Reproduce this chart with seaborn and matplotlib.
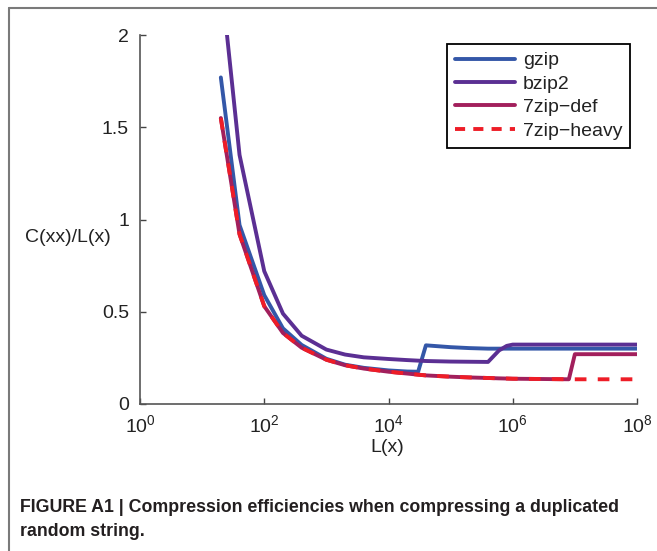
import numpy as np
import pandas as pd
import matplotlib
matplotlib.use("Agg")
import matplotlib.pyplot as plt
import seaborn as sns
from matplotlib.lines import Line2D
from matplotlib.ticker import FuncFormatter, FixedLocator

# ---- data ----
x_len = [20, 40, 100, 200, 400, 1e3, 2e3, 4e3, 1e4, 2e4, 3e4, 4e4, 1e5, 2e5,
         4e5, 6e5, 8e5, 1e6, 2e6, 4e6, 8e6, 1e7, 2e7, 4e7, 1e8]
gzip = [1.77, 0.97, 0.59, 0.41, 0.32, 0.245, 0.213, 0.196, 0.182, 0.176, 0.175,
        0.318, 0.308, 0.303, 0.300, 0.300, 0.300, 0.300, 0.300, 0.300, 0.300,
        0.300, 0.300, 0.300, 0.300]
bzip2 = [2.32, 1.35, 0.72, 0.49, 0.37, 0.295, 0.268, 0.253, 0.244, 0.238, 0.235,
         0.233, 0.230, 0.229, 0.228, 0.290, 0.315, 0.322, 0.322, 0.322, 0.322,
         0.322, 0.322, 0.322, 0.322]
zip7_def = [1.55, 0.92, 0.53, 0.385, 0.305, 0.240, 0.210, 0.192, 0.175, 0.165,
            0.159, 0.155, 0.148, 0.144, 0.141, 0.139, 0.138, 0.137, 0.136, 0.135,
            0.134, 0.270, 0.270, 0.270, 0.270]
zip7_heavy = [1.55, 0.92, 0.53, 0.385, 0.305, 0.240, 0.210, 0.192, 0.175, 0.165,
              0.159, 0.155, 0.148, 0.144, 0.141, 0.139, 0.138, 0.137, 0.136, 0.135,
              0.134, 0.134, 0.134, 0.134, 0.134]
series_names = ["gzip", "bzip2", "7zip\u2212def", "7zip\u2212heavy"]
x_ticks = [1, 1e2, 1e4, 1e6, 1e8]
y_ticks = [0, 0.5, 1, 1.5, 2]
caption_lines = ["FIGURE A1 | Compression efficiencies when compressing a duplicated",
                 "random string."]

# ---- style ----
sns.set_style("ticks")
plt.rcParams["font.family"] = ["Liberation Sans", "DejaVu Sans"]
plt.rcParams["mathtext.fontset"] = "custom"
plt.rcParams["mathtext.rm"] = "Liberation Sans"
plt.rcParams["mathtext.it"] = "Liberation Sans:italic"

colors = ["#3457A8", "#5B2F93", "#A21F5C", "#EE1D27"]

df = pd.DataFrame({"L": x_len, "gzip": gzip, "bzip2": bzip2,
                   "def": zip7_def, "heavy": zip7_heavy})

W, H = 657, 551
fig = plt.figure(figsize=(W / 100, H / 100), dpi=100)
fig.patch.set_facecolor("white")
ax = fig.add_axes([140 / W, 1 - 404 / H, (637 - 140) / W, (404 - 35) / H])

lw = 2.8
cols = ["gzip", "bzip2", "def", "heavy"]
for col, name, c in zip(cols, series_names, colors):
    sns.lineplot(data=df, x="L", y=col, ax=ax, color=c, linewidth=lw,
                 label=name, estimator=None, sort=False)
ax.lines[-1].set_dashes((3.0, 2.9))
ax.lines[-1].set_dash_capstyle("butt")

ax.set_xscale("log")
ax.set_xlim(1, 1e8)
ax.set_ylim(0, 2)
ax.xaxis.set_major_locator(FixedLocator(x_ticks))
ax.xaxis.set_minor_locator(FixedLocator([]))
ax.yaxis.set_major_locator(FixedLocator(y_ticks))
ax.yaxis.set_major_formatter(FuncFormatter(lambda v, p: f"{v:g}"))
ax.tick_params(direction="in", length=4, width=1, colors="#444444",
               labelcolor="#222222", labelsize=14)
ax.tick_params(axis="x", pad=7)
ax.tick_params(axis="y", pad=8)
for s in ["top", "right"]:
    ax.spines[s].set_visible(False)
for s in ["left", "bottom"]:
    ax.spines[s].set_color("#555555")
    ax.spines[s].set_linewidth(1.2)
ax.set_xlabel("")
ax.set_ylabel("")
fig.text(387 / W, 1 - 448 / H, "L(x)", ha="center", va="center",
         fontsize=14, color="#222222")
fig.text(25 / W, 1 - 238 / H, "C(xx)/L(x)", ha="left", va="center",
         fontsize=14, color="#222222")

leg = ax.legend(loc="upper left", bbox_to_anchor=(447 / W, 1 - 44 / H),
                bbox_transform=fig.transFigure, fontsize=14, frameon=True,
                fancybox=False, shadow=False, handlelength=3.1,
                handletextpad=0.4, labelspacing=0.3, borderpad=0.4,
                borderaxespad=0)
leg.get_frame().set_edgecolor("black")
leg.get_frame().set_linewidth(1.3)
leg.get_frame().set_alpha(1)
for t in leg.get_texts():
    t.set_color("#222222")
leg.get_lines()[-1].set_dashes((2.6, 2.1))

# figure frame (left and top edges)
frame_kw = dict(color="#7a7a7a", linewidth=1.5, transform=fig.transFigure)
fig.add_artist(Line2D([9 / W, 9 / W], [0, 1 - 8 / H], **frame_kw))
fig.add_artist(Line2D([9 / W, 1], [1 - 8 / H, 1 - 8 / H], **frame_kw))

# caption
cap_fam = ["Liberation Sans Narrow", "Liberation Sans", "DejaVu Sans"]
t1 = fig.text(20 / W, 1 - 507 / H, caption_lines[0], ha="left", va="center",
              fontsize=12.5, fontweight="bold", family=cap_fam, color="#231f20")
t2 = fig.text(20 / W, 1 - 532 / H, caption_lines[1], ha="left", va="center",
              fontsize=12.5, fontweight="bold", family=cap_fam, color="#231f20")
fig.canvas.draw()
r = fig.canvas.get_renderer()
wpx = t1.get_window_extent(r).width
target = 622 - 20
scale = target / wpx
t1.set_fontsize(12.5 * scale)
t2.set_fontsize(12.5 * scale)

fig.savefig("out.png", dpi=100)
